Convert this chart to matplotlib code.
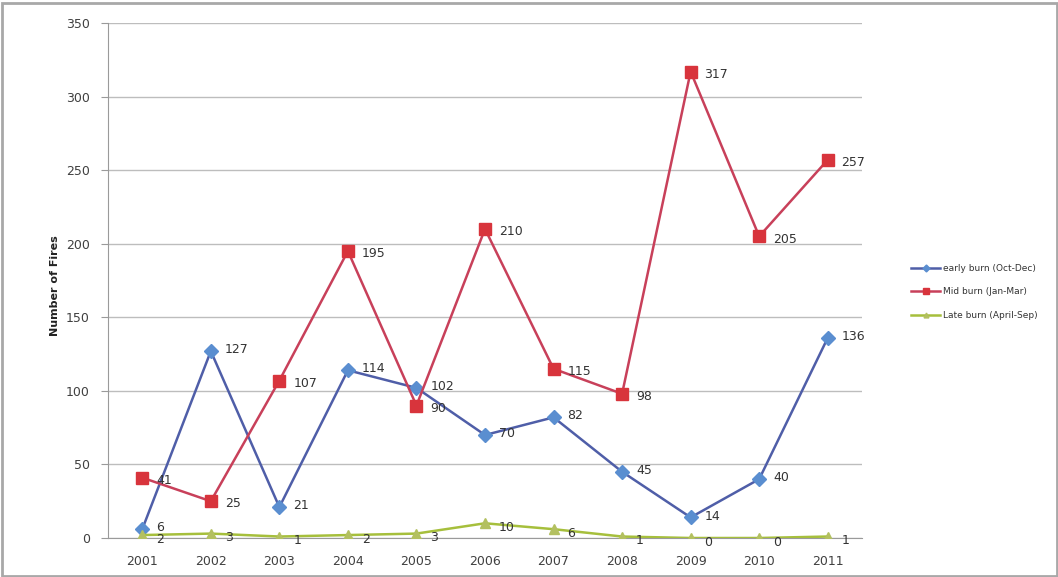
import matplotlib
matplotlib.use("Agg")
import matplotlib.pyplot as plt
from matplotlib.patches import Rectangle

years = ["2001", "2002", "2003", "2004", "2005", "2006", "2007", "2008", "2009", "2010", "2011"]
early_burn = [6, 127, 21, 114, 102, 70, 82, 45, 14, 40, 136]
mid_burn = [41, 25, 107, 195, 90, 210, 115, 98, 317, 205, 257]
late_burn = [2, 3, 1, 2, 3, 10, 6, 1, 0, 0, 1]
series_names = ["early burn (Oct-Dec)", "Mid burn (Jan-Mar)", "Late burn (April-Sep)"]
y_ticks = [0, 50, 100, 150, 200, 250, 300, 350]

W, H = 1058, 577
fig = plt.figure(figsize=(W / 100, H / 100), dpi=100)
fig.patch.set_facecolor("white")

# outer frame of the chart area
fig.add_artist(Rectangle((1.5 / W, 1.5 / H), 1 - 3 / W, 1 - 4 / H, transform=fig.transFigure,
                         fill=False, edgecolor="#a8a8a8", linewidth=2.0))

left, right, top, bottom = 108, 862, 23, 538
ax = fig.add_axes([left / W, 1 - bottom / H, (right - left) / W, (bottom - top) / H])

x = list(range(len(years)))
ax.set_xlim(-0.5, len(years) - 0.5)
ax.set_ylim(0, 350)
ax.set_yticks(y_ticks)
ax.set_xticks(x)
ax.set_xticklabels(years)
ax.grid(axis="y", color="#bdbdbd", linewidth=1.0)
ax.set_axisbelow(True)
for s in ["top", "right"]:
    ax.spines[s].set_visible(False)
ax.spines["left"].set_color("#9a9a9a")
ax.spines["bottom"].set_color("#9a9a9a")
ax.tick_params(axis="both", colors="#9a9a9a", labelcolor="#404040", labelsize=9, length=4)
ax.tick_params(axis="x", length=0, pad=12)
ax.tick_params(axis="y", length=5, pad=8)
ax.set_ylabel("Number of Fires", fontsize=8, fontweight="bold", color="#222222")
ax.yaxis.set_label_coords(-0.064, 0.49)

styles = [
    # values, line colour, marker colour, marker, size, label offset (pt)
    (early_burn, "#4f5ea8", "#5a8ed0", "D", 7, (10, 1)),
    (mid_burn, "#c8405a", "#d8343c", "s", 8.5, (10, -2)),
    (late_burn, "#a6bf3c", "#b3c060", "^", 7, (10, -3)),
]

for (vals, lc, mc, mk, ms, off), name in zip(styles, series_names):
    ax.plot(x, vals, color=lc, linewidth=1.8, marker=mk, markersize=ms,
            markerfacecolor=mc, markeredgecolor=mc, label=name, zorder=3)
    for xi, v in zip(x, vals):
        ax.annotate(str(v), (xi, v), xytext=off, textcoords="offset points",
                    fontsize=9, color="#333333", va="center", ha="left", zorder=4)

leg = fig.legend(loc="center left", bbox_to_anchor=(903 / W, 1 - 292 / H), frameon=False,
                 fontsize=6.5, handlelength=3.2, handletextpad=0.3, labelspacing=1.6,
                 markerscale=0.5)
for t in leg.get_texts():
    t.set_color("#333333")

fig.savefig("out.png", dpi=100)
